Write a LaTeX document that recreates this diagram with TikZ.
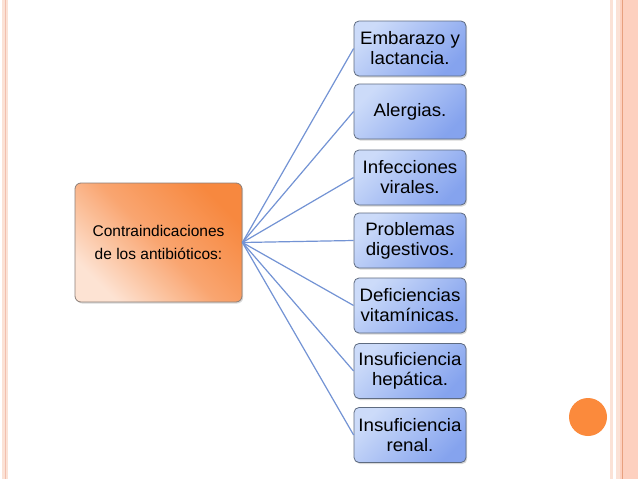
\documentclass[tikz,border=0pt]{standalone}
\usepackage{fontspec}
\setmainfont{Liberation Sans}
\newfontfamily\boxfont[FakeStretch=1.04]{Liberation Sans}
\usetikzlibrary{shadows}
\definecolor{lpeach}{HTML}{FBE2D6}
\definecolor{lline}{HTML}{F2BFAE}
\definecolor{rpeach}{HTML}{FDD0BF}
\definecolor{rline}{HTML}{E8A07E}
\definecolor{dot}{HTML}{FB8A3C}
\definecolor{blueA}{HTML}{CCDBF9}
\definecolor{blueB}{HTML}{85A3EE}
\definecolor{oraA}{HTML}{F7883F}
\definecolor{oraM}{HTML}{F9A570}
\definecolor{oraB}{HTML}{FDE3D3}
\definecolor{conn}{HTML}{7393D4}
\definecolor{bordB}{HTML}{5E6B80}
\definecolor{bordO}{HTML}{8C7F78}
\begin{document}
\begin{tikzpicture}[x=1pt,y=1pt,
  itembox/.style={draw=bordB, line width=0.8pt, rounded corners=5pt,
    top color=blueA, bottom color=blueB, shading angle=45,
    minimum width=112pt, minimum height=55pt, inner sep=1pt,
    align=center, font=\boxfont\fontsize{18}{20}\selectfont,
    drop shadow={opacity=0.3, shadow xshift=1.2pt, shadow yshift=-1.5pt}},
  mainbox/.style={draw=bordO, line width=0.8pt, rounded corners=6pt,
    top color=oraA, bottom color=oraB, middle color=oraM, shading angle=-45,
    minimum width=167pt, minimum height=119pt, inner sep=1pt,
    align=center, font=\fontsize{15.5}{23}\selectfont,
    drop shadow={opacity=0.3, shadow xshift=1.2pt, shadow yshift=-1.5pt}},
  connector/.style={draw=conn, line width=1.2pt}]
\useasboundingbox (0,0) rectangle (638,-479);
\fill[white] (0,0) rectangle (638,-479);
% slide borders
\fill[lpeach] (2,0) rectangle (8,-479);
\fill[lline] (4.5,0) rectangle (6,-479);
\fill[lpeach] (610,0) rectangle (612.7,-479);
\fill[lpeach] (616,0) rectangle (620,-479);
\fill[rpeach] (620,0) rectangle (638,-479);
\fill[rline] (622,0) rectangle (623.2,-479);
\fill[dot] (588,-417) circle (19);
% main node
\node[mainbox] (main) at (158.5,-242.5) {Contraindicaciones\\de los antibióticos:};
% items
\node[itembox] (i1) at (410,-48.5) {Embarazo y\\lactancia.};
\node[itembox] (i2) at (410,-111.5) {Alergias.};
\node[itembox] (i3) at (410,-177.5) {Infecciones\\virales.};
\node[itembox] (i4) at (410,-240.5) {Problemas\\digestivos.};
\node[itembox] (i5) at (410,-305.5) {Deficiencias\\vitamínicas.};
\node[itembox] (i6) at (410,-371) {Insuficiencia\\hepática.};
\node[itembox] (i7) at (410,-435) {Insuficiencia\\renal.};
\foreach \n in {i1,i2,i3,i4,i5,i6,i7}{
  \draw[connector] (main.east) -- (\n.west);
}
\end{tikzpicture}
\end{document}
